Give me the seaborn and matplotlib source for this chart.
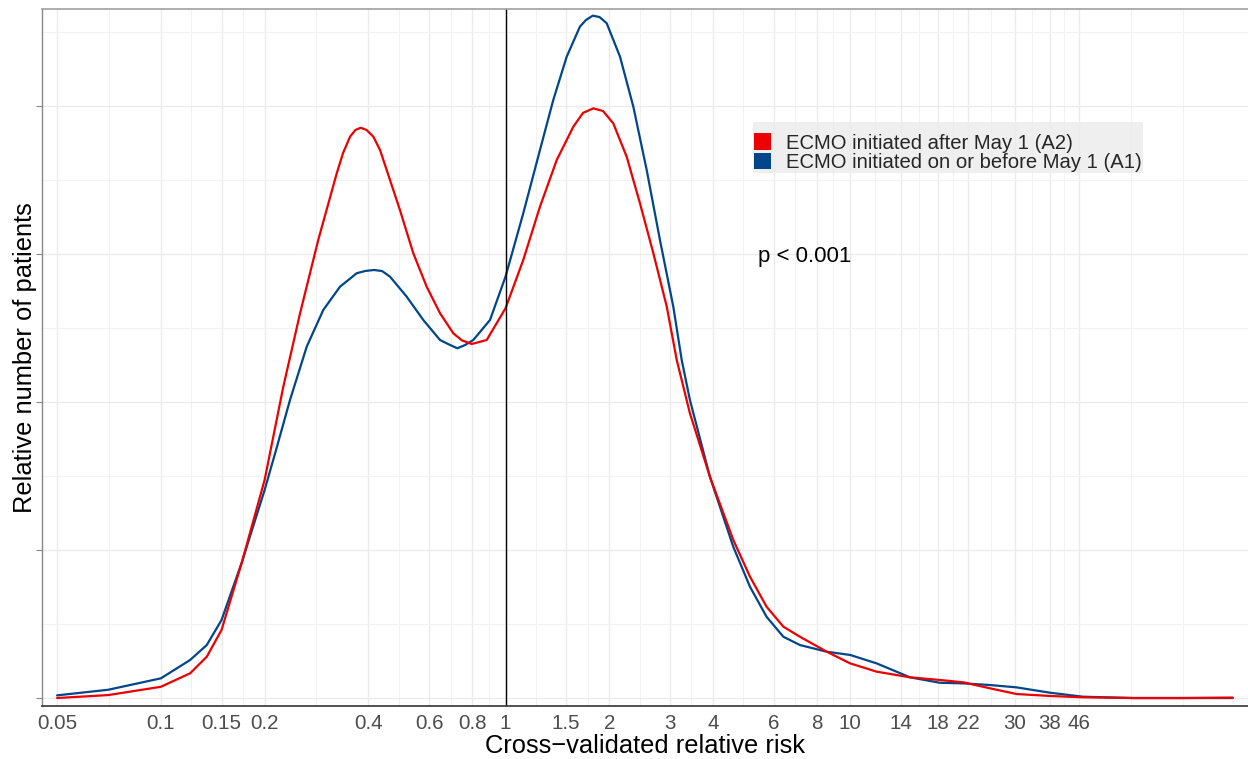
import numpy as np
import pandas as pd
import matplotlib
matplotlib.use("Agg")
import matplotlib.pyplot as plt
import matplotlib.ticker as mticker
from matplotlib.patches import Patch
import seaborn as sns

# density curves (relative risk, relative density)
rr_a2 = [0.05, 0.0704, 0.1, 0.1216, 0.1359, 0.150, 0.172, 0.2, 0.2266, 0.2535,
         0.2862, 0.3238, 0.3378, 0.354, 0.367, 0.380, 0.3951, 0.4135, 0.4324, 0.452,
         0.494, 0.540, 0.5905, 0.6456, 0.7056, 0.7479, 0.798, 0.8377, 0.882, 1.0,
         1.126, 1.259, 1.408, 1.573, 1.678, 1.798, 1.918, 2.054, 2.247, 2.455,
         2.685, 2.937, 3.139, 3.428, 3.918, 4.58, 5.12, 5.72, 6.40, 7.15,
         8.55, 10.0, 11.94, 14.91, 18.22, 21.3, 25.4, 30.4, 38.0, 47.3,
         66.1, 92.4, 128.8]
dens_a2 = [0.0, 0.002, 0.0076, 0.0167, 0.0279, 0.046, 0.0921, 0.1473, 0.2103, 0.260,
           0.3095, 0.3545, 0.3682, 0.3793, 0.3838, 0.3853, 0.3838, 0.3793, 0.3703, 0.3568,
           0.3297, 0.3005, 0.2779, 0.260, 0.2464, 0.2416, 0.2392, 0.2405, 0.2419, 0.2633,
           0.296, 0.332, 0.3635, 0.386, 0.3953, 0.3984, 0.3966, 0.3883, 0.3657, 0.3343,
           0.3005, 0.2644, 0.2284, 0.1924, 0.1495, 0.1068, 0.082, 0.0617, 0.0482, 0.0414,
           0.0313, 0.0234, 0.0178, 0.014, 0.0122, 0.0106, 0.0066, 0.0027, 0.0014, 0.0005,
           0.0, 0.0, 0.0003]

rr_a1 = [0.05, 0.0704, 0.1, 0.1216, 0.1359, 0.150, 0.172, 0.2, 0.2159, 0.2370,
         0.2650, 0.296, 0.331, 0.370, 0.3913, 0.4154, 0.4383, 0.4622, 0.517, 0.5774,
         0.6456, 0.681, 0.7245, 0.7632, 0.8064, 0.9016, 1.0, 1.126, 1.259, 1.3757,
         1.505, 1.644, 1.712, 1.791, 1.874, 1.966, 2.149, 2.349, 2.568, 2.806,
         3.068, 3.245, 3.428, 3.918, 4.58, 5.12, 5.72, 6.40, 7.15, 8.55,
         10.0, 11.94, 14.91, 18.22, 21.3, 25.4, 30.4, 38.0, 47.3, 66.1,
         92.4, 128.8]
dens_a1 = [0.0018, 0.0056, 0.0133, 0.0257, 0.0358, 0.0527, 0.0921, 0.1405, 0.1676, 0.2014,
           0.2374, 0.2622, 0.2779, 0.287, 0.2885, 0.2892, 0.2885, 0.2847, 0.2711, 0.2554,
           0.2419, 0.2392, 0.2363, 0.2385, 0.2419, 0.2554, 0.2847, 0.3275, 0.3703, 0.404,
           0.4333, 0.4536, 0.4581, 0.461, 0.4601, 0.4559, 0.4333, 0.3995, 0.3568, 0.3095,
           0.2644, 0.2284, 0.2014, 0.1495, 0.1022, 0.0752, 0.0549, 0.0414, 0.0358, 0.0313,
           0.0291, 0.0234, 0.014, 0.0103, 0.0099, 0.0088, 0.0072, 0.0036, 0.0009, 0.0,
           0.0, 0.0]

label_a2 = "ECMO initiated after May 1 (A2)"
label_a1 = "ECMO initiated on or before May 1 (A1)"
colors = {label_a2: "#ED0000", label_a1: "#00468B"}

x_breaks = [0.05, 0.1, 0.15, 0.2, 0.4, 0.6, 0.8, 1, 1.5, 2, 3, 4, 6, 8, 10,
            14, 18, 22, 30, 38, 46]
x_labels = ["0.05", "0.1", "0.15", "0.2", "0.4", "0.6", "0.8", "1", "1.5", "2",
            "3", "4", "6", "8", "10", "14", "18", "22", "30", "38", "46"]
extra_grid = [65.3, 92.5]
y_breaks = [0, 0.1, 0.2, 0.3, 0.4]

df = pd.concat([
    pd.DataFrame({"rr": rr_a1, "density": dens_a1, "group": label_a1}),
    pd.DataFrame({"rr": rr_a2, "density": dens_a2, "group": label_a2}),
])

sns.set_theme(style="white")
plt.rcParams["font.family"] = ["Liberation Sans", "DejaVu Sans"]

fig = plt.figure(figsize=(12.48, 7.59), dpi=100)
ax = fig.add_axes([0.03365, 0.0698, 0.9663, 0.9183])

sns.lineplot(data=df, x="rr", y="density", hue="group",
             hue_order=[label_a1, label_a2], palette=colors,
             linewidth=1.6, legend=False, ax=ax, sort=False)

ax.set_xscale("log")
ax.set_xlim(0.0452, 142.6)
ax.set_ylim(-0.0054, 0.4655)

xb = np.array(x_breaks)
x_minor = list(np.sqrt(xb[:-1] * xb[1:])) + extra_grid
ax.xaxis.set_major_locator(mticker.FixedLocator(x_breaks))
ax.xaxis.set_major_formatter(mticker.FixedFormatter(x_labels))
ax.xaxis.set_minor_locator(mticker.FixedLocator(x_minor))
ax.xaxis.set_minor_formatter(mticker.NullFormatter())

yb = np.array(y_breaks)
ax.yaxis.set_major_locator(mticker.FixedLocator(y_breaks))
ax.yaxis.set_minor_locator(mticker.FixedLocator(list(yb + 0.05)))
ax.yaxis.set_major_formatter(mticker.NullFormatter())

ax.grid(which="major", color="#EBEBEB", linewidth=1.0)
ax.grid(which="minor", color="#F2F2F2", linewidth=0.8)
ax.set_axisbelow(True)

ax.tick_params(axis="x", which="major", length=4, width=0.8, color="#333333",
               labelsize=14.8, labelcolor="#4D4D4D", pad=1.5)
ax.tick_params(axis="y", which="major", length=4, width=0.8, color="#888888",
               left=True, labelleft=False)
ax.tick_params(which="minor", length=0)

ax.spines["right"].set_visible(False)
ax.spines["top"].set_color("#A0A0A0")
ax.spines["top"].set_linewidth(1.2)
ax.spines["left"].set_color("#888888")
ax.spines["left"].set_linewidth(1.0)
ax.spines["bottom"].set_color("#333333")
ax.spines["bottom"].set_linewidth(1.2)

ax.axvline(1, color="black", linewidth=1.0)

ax.set_xlabel("Cross\u2212validated relative risk", fontsize=18.4, color="black", labelpad=1)
ax.set_ylabel("Relative number of patients", fontsize=18.4, color="black")
ax.yaxis.set_label_coords(-0.004, 0.5)

handles = [Patch(facecolor=colors[label_a2], edgecolor="none", label=label_a2),
           Patch(facecolor=colors[label_a1], edgecolor="none", label=label_a1)]
leg = ax.legend(handles=handles, title=" ", loc="upper left",
                bbox_to_anchor=(0.5896, 0.8379), fontsize=14.6, title_fontsize=7,
                frameon=True, fancybox=False, handlelength=0.85, handleheight=0.85,
                handletextpad=0.75, labelspacing=0.02, borderpad=0.05,
                borderaxespad=0)
leg.get_frame().set_facecolor("#EBEBEB")
leg.get_frame().set_edgecolor("none")
leg._legend_box.align = "left"

ax.text(0.5937, 0.6456, "p < 0.001", transform=ax.transAxes, fontsize=16,
        color="black", ha="left", va="center")

fig.savefig("out.png", dpi=100)
plt.close(fig)
